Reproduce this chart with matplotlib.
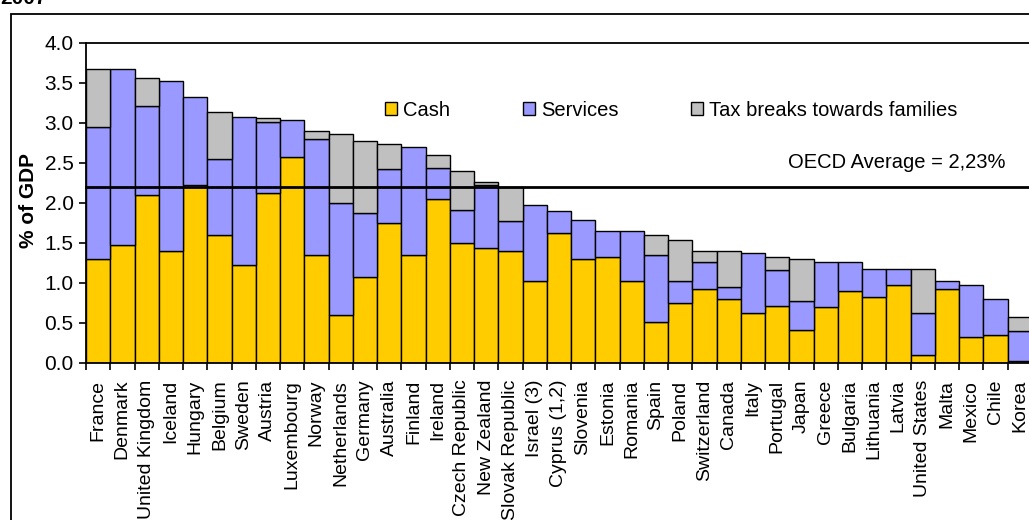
import matplotlib
matplotlib.use("Agg")
import matplotlib.pyplot as plt
from matplotlib.patches import Patch, Rectangle
import numpy as np

plt.rcParams['font.family'] = ['Liberation Sans', 'DejaVu Sans']

countries = ['France', 'Denmark', 'United Kingdom', 'Iceland', 'Hungary', 'Belgium',
             'Sweden', 'Austria', 'Luxembourg', 'Norway', 'Netherlands', 'Germany',
             'Australia', 'Finland', 'Ireland', 'Czech Republic', 'New Zealand',
             'Slovak Republic', 'Israel (3)', 'Cyprus (1,2)', 'Slovenia', 'Estonia',
             'Romania', 'Spain', 'Poland', 'Switzerland', 'Canada', 'Italy', 'Portugal',
             'Japan', 'Greece', 'Bulgaria', 'Lithuania', 'Latvia', 'United States',
             'Malta', 'Mexico', 'Chile', 'Korea']

cash = [1.30, 1.48, 2.10, 1.40, 2.22, 1.60, 1.22, 2.13, 2.58, 1.35, 0.60, 1.08,
        1.75, 1.35, 2.05, 1.50, 1.44, 1.40, 1.02, 1.63, 1.30, 1.33, 1.02, 0.51,
        0.75, 0.93, 0.80, 0.63, 0.71, 0.41, 0.70, 0.90, 0.83, 0.98, 0.10, 0.93,
        0.32, 0.35, 0.02]
services = [1.65, 2.20, 1.11, 2.12, 1.10, 0.95, 1.86, 0.88, 0.46, 1.45, 1.40, 0.80,
            0.67, 1.35, 0.39, 0.41, 0.78, 0.38, 0.96, 0.27, 0.49, 0.32, 0.63, 0.84,
            0.28, 0.33, 0.15, 0.75, 0.45, 0.36, 0.56, 0.36, 0.35, 0.20, 0.53, 0.09,
            0.66, 0.45, 0.38]
tax_breaks = [0.73, 0.00, 0.35, 0.00, 0.00, 0.59, 0.00, 0.05, 0.00, 0.10, 0.86, 0.90,
              0.32, 0.00, 0.16, 0.49, 0.04, 0.42, 0.00, 0.00, 0.00, 0.00, 0.00, 0.25,
              0.51, 0.14, 0.45, 0.00, 0.16, 0.53, 0.00, 0.00, 0.00, 0.00, 0.55, 0.00,
              0.00, 0.00, 0.18]
oecd_avg = 2.2

c_cash = '#FFCC00'
c_serv = '#9999FF'
c_tax = '#C0C0C0'

W, H = 1029, 520
fig = plt.figure(figsize=(W / 100, H / 100), dpi=100)
ax = fig.add_axes([86 / W, 1 - 363 / H, 945.75 / W, 320 / H])

x = np.arange(len(countries))
cash = np.array(cash)
services = np.array(services)
tax_breaks = np.array(tax_breaks)

ax.bar(x, cash, width=1.0, color=c_cash, edgecolor='black', linewidth=1.0, zorder=2)
ax.bar(x, services, bottom=cash, width=1.0, color=c_serv, edgecolor='black',
       linewidth=1.0, zorder=2)
m = tax_breaks > 0
ax.bar(x[m], tax_breaks[m], bottom=(cash + services)[m], width=1.0, color=c_tax,
       edgecolor='black', linewidth=1.0, zorder=2)

ax.axhline(oecd_avg, color='black', linewidth=2.0, zorder=3, clip_on=False)
ax.text(37.4, 2.5, 'OECD Average = 2,23%', ha='right', va='center', fontsize=14.5)

ax.set_xlim(-0.5, len(countries) - 0.5)
ax.set_ylim(0, 4.0)
ax.set_yticks(np.arange(0, 4.01, 0.5))
ax.set_yticklabels([f'{v:.1f}' for v in np.arange(0, 4.01, 0.5)], fontsize=15)
ax.tick_params(axis='y', direction='out', length=5, width=1.2, pad=4)

ax.set_xticks(x)
ax.set_xticklabels(countries, rotation=90, fontsize=14)
ax.tick_params(axis='x', which='major', length=0, pad=12)
ax.set_xticks(np.arange(-0.5, len(countries), 1.0), minor=True)
ax.tick_params(axis='x', which='minor', direction='out', length=5, width=1.2)

for s in ax.spines.values():
    s.set_linewidth(1.3)

fig.text(29 / W, 1 - 200 / H, '% of GDP', rotation=90, ha='center', va='center',
         fontsize=15, fontweight='bold')

handles = [Patch(facecolor=c_cash, edgecolor='black', label='Cash'),
           Patch(facecolor=c_serv, edgecolor='black', label='Services'),
           Patch(facecolor=c_tax, edgecolor='black', label='Tax breaks towards families')]
fig.legend(handles=handles, loc='center left', bbox_to_anchor=(385 / W, 1 - 110 / H),
           bbox_transform=fig.transFigure, ncol=3, frameon=False, fontsize=14.5,
           handlelength=0.6, handleheight=0.6, handletextpad=0.3,
           columnspacing=3.6, borderpad=0, borderaxespad=0)

fig.patches.append(Rectangle((11 / W, -0.1), 2.0, 1.1 - 14 / H, transform=fig.transFigure,
                             fill=False, edgecolor='black', linewidth=1.3))
fig.text(0.0, 1 - 4 / H, '2007', ha='left', va='baseline', fontsize=15, fontweight='bold')

fig.savefig('out.png', dpi=100)
